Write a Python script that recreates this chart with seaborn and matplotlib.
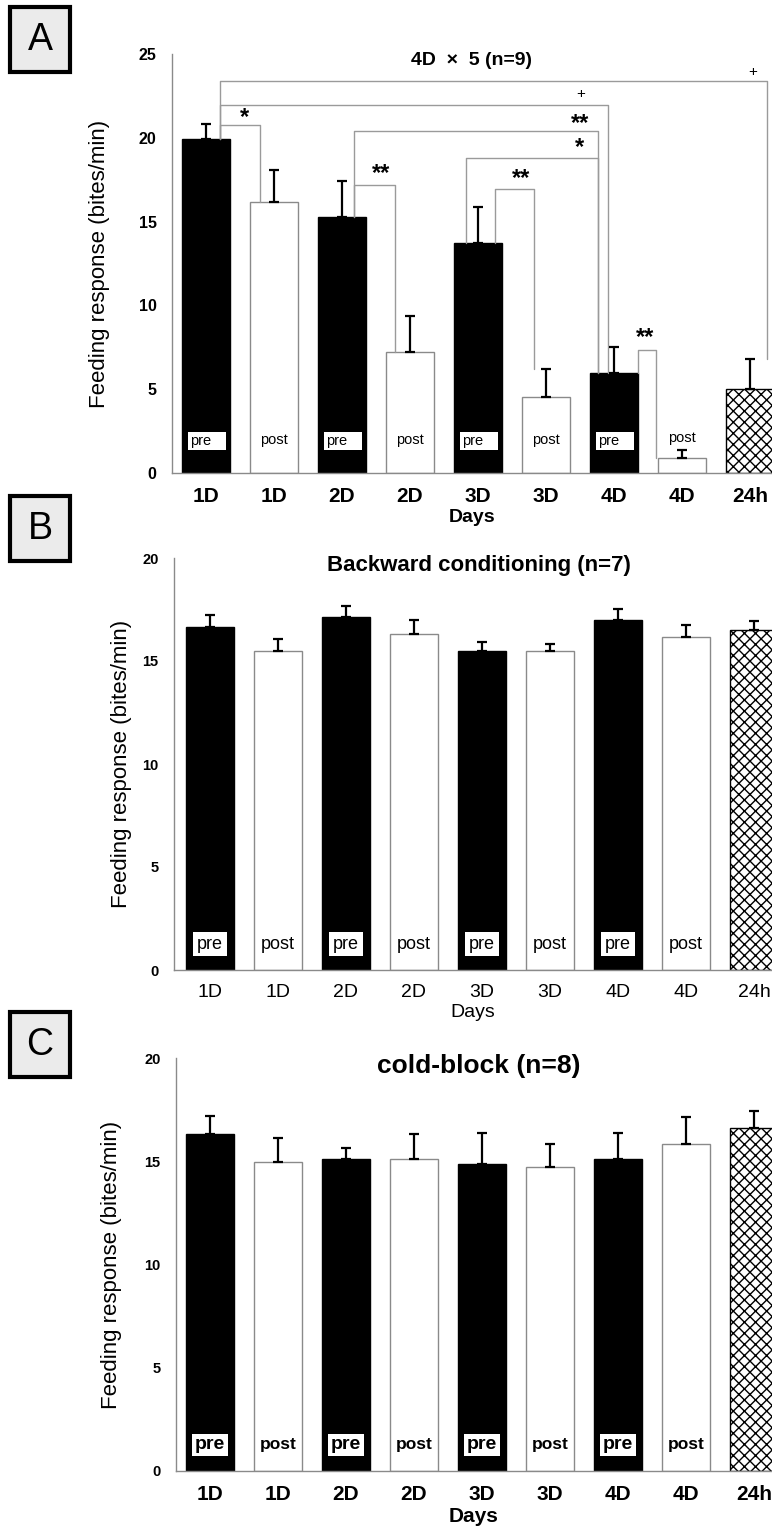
import numpy as np
import pandas as pd
import matplotlib.pyplot as plt
from matplotlib.patches import Rectangle
from matplotlib.ticker import MultipleLocator
import seaborn as sns

days = ["1D", "1D", "2D", "2D", "3D", "3D", "4D", "4D", "24h"]
phases = ["pre", "post", "pre", "post", "pre", "post", "pre", "post", "24h"]

# panel A: 4D x 5
a_mean = [19.9, 16.15, 15.25, 7.2, 13.7, 4.55, 5.95, 0.9, 5.0]
a_sem = [0.9, 1.95, 2.15, 2.15, 2.2, 1.65, 1.55, 0.45, 1.8]
# panel B: backward conditioning
b_mean = [16.67, 15.5, 17.15, 16.33, 15.5, 15.5, 17.0, 16.17, 16.5]
b_sem = [0.56, 0.58, 0.5, 0.64, 0.4, 0.33, 0.52, 0.59, 0.43]
# panel C: cold-block
c_mean = [16.34, 14.95, 15.1, 15.1, 14.85, 14.72, 15.1, 15.85, 16.59]
c_sem = [0.86, 1.2, 0.54, 1.23, 1.53, 1.13, 1.26, 1.31, 0.85]

# significance: left slot, right slot, mark
a_sig = [(0, 8, "+"), (0, 6, "+"), (2, 6, "**"), (4, 6, "*"),
         (4, 5, "**"), (0, 1, "*"), (2, 3, "**"), (6, 7, "**")]

sns.set_style("white")
plt.rcParams["font.family"] = ["Liberation Sans", "DejaVu Sans"]
plt.rcParams["text.color"] = "black"
plt.rcParams["axes.labelcolor"] = "black"
plt.rcParams["xtick.color"] = "black"
plt.rcParams["ytick.color"] = "black"
plt.rcParams["hatch.linewidth"] = 1.0

W, H = 772, 1530
SLOT = 68.0
fig = plt.figure(figsize=(W / 100, H / 100), dpi=100)

bar_colors = {"pre": "black", "post": "white", "24h": "white"}
edge_colors = {"pre": "black", "post": "#8a8a8a", "24h": "black"}


def draw_bars(left, top, bottom, x0, means, sems, ymax):
    ax = fig.add_axes([left / W, 1 - bottom / H, (W - left) / W, (bottom - top) / H])
    df = pd.DataFrame({"slot": range(9), "value": means, "phase": phases})
    sns.barplot(data=df, x="slot", y="value", hue="phase", palette=bar_colors,
                dodge=False, width=0.7, saturation=1, legend=False, ax=ax)
    for p in ax.patches:
        if np.isnan(p.get_height()) or p.get_height() == 0:
            continue
        slot = int(round(p.get_x() + p.get_width() / 2))
        ph = phases[slot]
        p.set_edgecolor(edge_colors[ph])
        p.set_linewidth(1.0)
        if ph == "24h":
            p.set_hatch("xxx")
    ax.errorbar(range(9), means, yerr=[np.zeros(9), sems], fmt="none",
                ecolor="black", elinewidth=1.6, capsize=3.5, capthick=1.6, zorder=4)
    ax.set_xlim((left - x0) / SLOT, (W - x0) / SLOT)
    ax.set_ylim(0, ymax)
    ax.set_yticks(range(0, ymax + 1, 5))
    ax.yaxis.set_minor_locator(MultipleLocator(1))
    for s in ["top", "right"]:
        ax.spines[s].set_visible(False)
    for s in ["left", "bottom"]:
        ax.spines[s].set_color("#8a8a8a")
        ax.spines[s].set_linewidth(1.0)
    ax.tick_params(axis="y", which="major", direction="in", length=6, color="#8a8a8a", pad=11)
    ax.tick_params(axis="y", which="minor", direction="in", length=4, color="#8a8a8a")
    ax.tick_params(axis="x", length=0, pad=10)
    ax.set_xticks(range(9))
    ax.set_xticklabels(days)
    ax.set_ylabel("Feeding response (bites/min)", fontsize=16)
    return ax


# ---------- A ----------
axA = draw_bars(172, 54, 473, 206, a_mean, a_sem, 25)
axA.yaxis.set_label_coords(-62 / 600, 0.5)
for lab in axA.get_xticklabels():
    lab.set_fontsize(15)
    lab.set_fontweight("bold")
for lab in axA.get_yticklabels():
    lab.set_fontsize(11.5)
    lab.set_fontweight("bold")
axA.set_xlabel("Days", fontsize=14, fontweight="bold", labelpad=2)
axA.text(3.9, 24.64, "4D  \u00d7  5 (n=9)", ha="center", va="center",
         fontsize=14, fontweight="bold")
for i, ph in enumerate(phases):
    if ph == "pre":
        axA.add_patch(Rectangle((i - 0.265, 1.37), 0.56, 1.08, facecolor="white",
                                edgecolor="none", zorder=5))
        axA.text(i - 0.235, 1.91, "pre", ha="left", va="center", fontsize=10.5, zorder=6)
    elif ph == "post":
        yy = 1.95 if a_mean[i] > 2.5 else a_mean[i] + a_sem[i] + 0.75
        axA.text(i, yy, "post", ha="center", va="center", fontsize=10.5, zorder=6)

# bracket geometry: (left offset, right offset, height, left end, right end, mark x, mark y)
a_geom = [
    (0.21, 0.245, 23.4, "bar", "err", 8.04, 23.95),
    (0.21, -0.09, 21.97, "bar", "bar", 5.51, 22.6),
    (0.18, -0.23, 20.38, "bar", "bar", 5.5, 20.85),
    (-0.18, -0.23, 18.8, "bar", "bar", 5.49, 19.4),
    (0.25, -0.18, 16.93, "bar", "err", 4.63, 17.6),
    (0.21, -0.21, 20.74, "bar", "bar", 0.57, 21.2),
    (0.18, -0.22, 17.18, "bar", "bar", 2.57, 17.85),
    (0.35, -0.38, 7.34, "bar", "bar", 6.46, 8.1),
]


def end_y(slot, kind):
    return a_mean[slot] + (a_sem[slot] if kind == "err" else 0)


for (l, r, mark), (dl, dr, hgt, le, re, mx, my) in zip(a_sig, a_geom):
    xl, xr = l + dl, r + dr
    axA.plot([xl, xl, xr, xr], [end_y(l, le), hgt, hgt, end_y(r, re)],
             color="#9a9a9a", lw=1.0, zorder=2, clip_on=False)
    if mark == "+":
        axA.text(mx, my, mark, ha="center", va="center", fontsize=11)
    else:
        axA.text(mx, my, mark, ha="center", va="center", fontsize=17, fontweight="bold")

# ---------- B ----------
axB = draw_bars(174, 558, 970, 210, b_mean, b_sem, 20)
axB.yaxis.set_label_coords(-42 / 598, 0.5)
for lab in axB.get_xticklabels():
    lab.set_fontsize(14)
for lab in axB.get_yticklabels():
    lab.set_fontsize(10.5)
    lab.set_fontweight("bold")
axB.set_xlabel("Days", fontsize=14, labelpad=2)
axB.text(3.95, 19.66, "Backward conditioning (n=7)", ha="center", va="center",
         fontsize=16, fontweight="bold")
for i, ph in enumerate(phases):
    if ph == "pre":
        axB.text(i, 1.26, "pre", ha="center", va="center", fontsize=13, zorder=6,
                 bbox=dict(boxstyle="square,pad=0.2", facecolor="white", edgecolor="none"))
    elif ph == "post":
        axB.text(i, 1.26, "post", ha="center", va="center", fontsize=13, zorder=6)

# ---------- C ----------
axC = draw_bars(176, 1058, 1471, 210, c_mean, c_sem, 20)
axC.yaxis.set_label_coords(-54 / 596, 0.5)
for lab in axC.get_xticklabels():
    lab.set_fontsize(15)
    lab.set_fontweight("bold")
for lab in axC.get_yticklabels():
    lab.set_fontsize(10.5)
    lab.set_fontweight("bold")
axC.set_xlabel("Days", fontsize=15, fontweight="bold", labelpad=2)
axC.text(3.95, 19.6, "cold-block (n=8)", ha="center", va="center",
         fontsize=19, fontweight="bold")
for i, ph in enumerate(phases):
    if ph == "pre":
        axC.text(i, 1.26, "pre", ha="center", va="center", fontsize=14, fontweight="bold",
                 zorder=6, bbox=dict(boxstyle="square,pad=0.15", facecolor="white", edgecolor="none"))
    elif ph == "post":
        axC.text(i, 1.26, "post", ha="center", va="center", fontsize=12.5,
                 fontweight="bold", zorder=6)

# panel letters
for letter, top in [("A", 7), ("B", 496), ("C", 1012)]:
    fig.add_artist(Rectangle((10 / W, 1 - (top + 65) / H), 60 / W, 65 / H,
                             transform=fig.transFigure, facecolor="#ebebeb",
                             edgecolor="black", linewidth=3))
    fig.text(40 / W, 1 - (top + 33) / H, letter, fontsize=27, ha="center", va="center")

fig.savefig("out.png", dpi=100)
